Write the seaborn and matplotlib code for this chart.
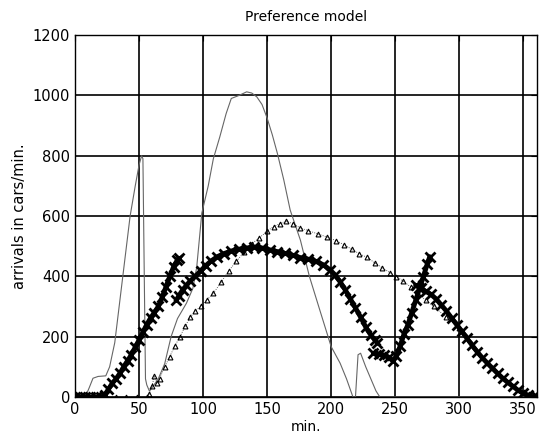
import numpy as np
import pandas as pd
import seaborn as sns
import matplotlib.pyplot as plt

# thin line (arrivals curve)
line_t = [0, 8, 11, 14, 18, 24, 27, 31, 35, 39, 43, 47, 50, 52, 53, 54, 55, 56, 58, 60,
          65, 70, 75, 80, 87, 92, 95, 97, 99, 104, 108, 113, 118, 122, 128, 134, 138, 142,
          146, 150, 154, 158, 163, 168, 176, 183, 191, 200, 207, 212, 217, 219, 221, 223,
          227, 231, 235, 238, 250, 300, 360]
line_v = [0, 0, 30, 62, 68, 70, 100, 180, 320, 460, 600, 700, 770, 800, 790, 420, 60, 40, 20, 30,
          60, 110, 200, 260, 311, 360, 430, 520, 610, 700, 790, 862, 940, 990, 1000, 1012, 1008, 995,
          970, 925, 870, 808, 720, 620, 520, 400, 290, 167, 112, 60, 0, 0, 140, 145,
          100, 60, 20, 0, 0, 0, 0]

# triangle series
tri_t = [0, 8, 16, 24, 32, 40, 48, 56, 58, 60, 62, 64, 66, 70, 74, 78, 82, 86, 90, 94, 98,
         103, 108, 114, 120, 126, 132, 138, 144, 150, 155, 160, 165, 170, 176, 182, 190, 197,
         204, 210, 216, 222, 228, 234, 240, 246, 251, 256, 262, 268, 274, 280, 290, 300]
tri_v = [0, 0, 0, 0, 0, 0, 0, 0, 10, 35, 70, 45, 60, 100, 134, 170, 200, 235, 265, 285, 300,
         322, 344, 380, 418, 450, 480, 508, 528, 550, 565, 575, 582, 575, 560, 552, 540, 530,
         518, 505, 490, 475, 463, 445, 428, 412, 399, 385, 365, 342, 320, 300, 265, 230]

# cross series, four pieces
xa_t = [0, 4, 8, 12, 16, 20, 23, 26, 29, 32, 35, 38, 41, 44, 47, 50, 53, 56, 59, 62, 65, 68,
        71, 74, 77, 80, 81]
xa_v = [0, 0, 0, 0, 0, 0, 5, 25, 45, 60, 78, 100, 120, 140, 165, 189, 215, 240, 262, 280, 300, 330,
        365, 400, 432, 455, 460]
xb_t = [79, 81, 84, 87, 90, 94, 98, 102, 106, 111, 116, 122, 128, 134, 140, 146, 152, 158, 164,
        170, 176, 182, 188, 194, 199, 203, 207, 211, 215, 219, 223, 227, 231, 234, 236]
xb_v = [320, 335, 355, 370, 385, 400, 418, 435, 450, 465, 475, 484, 490, 494, 497, 494, 488, 482, 476,
        470, 462, 457, 450, 438, 422, 405, 382, 355, 325, 295, 265, 232, 205, 190, 180]
xc_t = [233, 237, 241, 245, 248, 251, 254, 257, 260, 263, 266, 269, 272, 275, 277]
xc_v = [145, 142, 138, 132, 120, 135, 170, 210, 240, 280, 320, 360, 399, 440, 465]
xd_t = [266, 270, 274, 278, 282, 286, 290, 294, 298, 302, 306, 310, 314, 318, 322, 326, 330,
        334, 338, 342, 346, 350, 354, 358, 361]
xd_v = [370, 360, 350, 340, 325, 305, 285, 262, 240, 218, 195, 172, 150, 130, 112, 95, 78,
        62, 48, 35, 22, 12, 5, 0, 0]

sns.set_style("white")
fig = plt.figure(figsize=(5.4, 4.45), dpi=100)
ax = fig.add_axes([0.139, 0.108, 0.856, 0.813])

sns.lineplot(x=line_t, y=line_v, ax=ax, color='#666666', lw=0.8, estimator=None, sort=False)
sns.lineplot(x=tri_t, y=tri_v, ax=ax, color='#333333', lw=0.6, ls=':', marker='^', ms=3.5,
             mfc='none', mec='black', mew=0.8, estimator=None, sort=False)
for t, v in [(xa_t, xa_v), (xb_t, xb_v), (xc_t, xc_v), (xd_t, xd_v)]:
    sns.lineplot(x=t, y=v, ax=ax, color='black', lw=3.5, marker='x', ms=7, mew=2,
                 mec='black', estimator=None, sort=False)

ax.set_xlim(0, 361)
ax.set_ylim(0, 1200)
ax.set_xticks(range(0, 351, 50))
ax.set_yticks(range(0, 1201, 200))
ax.grid(True, color='black', lw=1.2)
ax.tick_params(direction='in', labelsize=10.5, length=4, top=True, right=True, colors='black')
for s in ax.spines.values():
    s.set_color('black')
    s.set_linewidth(1)
ax.set_title('Preference model', fontsize=10, pad=10, color='black')
ax.set_xlabel('min.', fontsize=10, labelpad=2, color='black')
ax.set_ylabel('arrivals in cars/min.', fontsize=10.5, labelpad=4, color='black')

fig.savefig('out.png', dpi=100)
